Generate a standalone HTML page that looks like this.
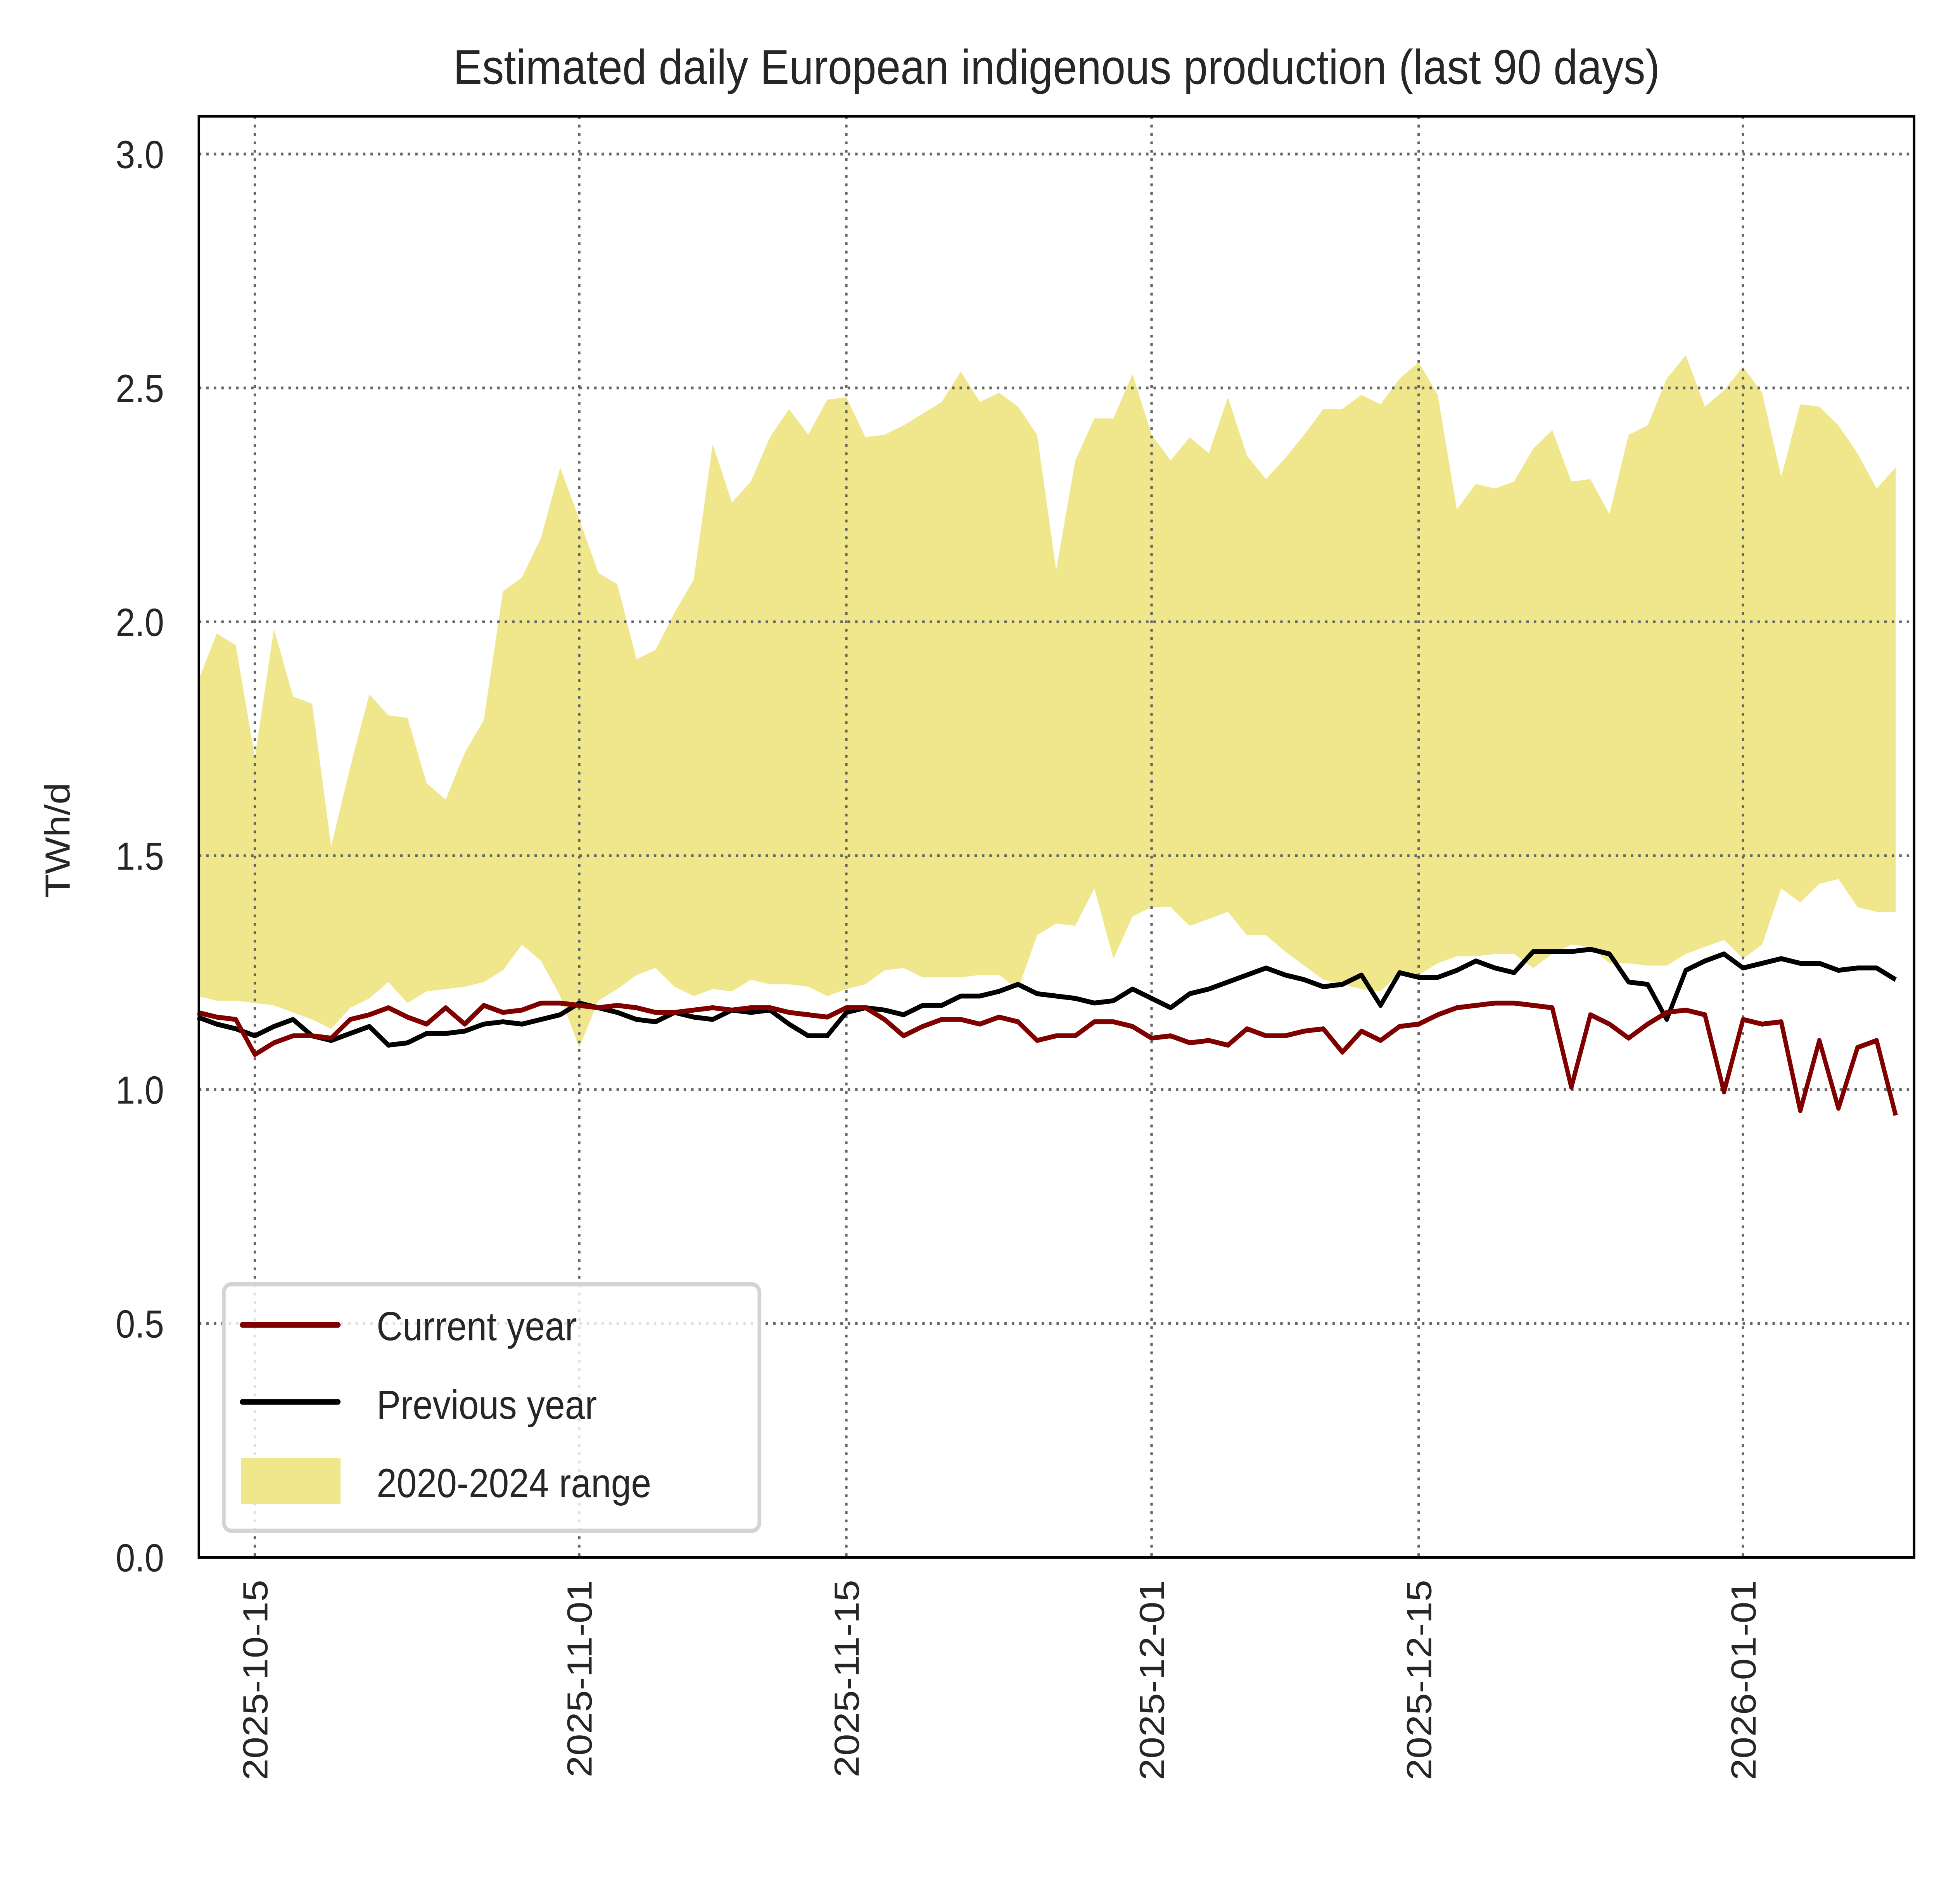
<!DOCTYPE html>
<html><head><meta charset="utf-8"><style>
html,body{margin:0;padding:0;background:#fff;width:100vw;height:100vh;overflow:hidden;}
svg{display:block;width:100vw;height:100vh;}
text{font-family:"Liberation Sans",sans-serif;fill:#262626;}
</style></head>
<body>
<svg id="chart" viewBox="0 0 1560 1359.5" preserveAspectRatio="none" xmlns="http://www.w3.org/2000/svg">
<rect width="1560" height="1359.5" fill="#fff"/>
<text x="850" y="60" font-size="35" text-anchor="middle">Estimated daily European indigenous production (last 90 days)</text>
<text transform="translate(56,600) rotate(-90)" font-size="28" text-anchor="middle">TWh/d</text>
<g id="band"></g>
<g id="grid"></g>
<g id="lines"></g>
<g id="ticks"></g>
<rect x="160" y="83" width="1380" height="1029" fill="none" stroke="#000" stroke-width="2"/>
<g>
<rect x="180" y="917" width="431" height="176" rx="6" fill="#fff" fill-opacity="0.8" stroke="#d4d4d4" stroke-width="3"/>
<line x1="195" y1="946" x2="272" y2="946" stroke="#800000" stroke-width="4" stroke-linecap="round"/>
<text x="303" y="957" font-size="29">Current year</text>
<line x1="195" y1="1001" x2="272" y2="1001" stroke="#000" stroke-width="4" stroke-linecap="round"/>
<text x="303" y="1013" font-size="29">Previous year</text>
<rect x="194" y="1041" width="80" height="33" fill="#f0e68c"/>
<text x="303" y="1069" font-size="29">2020-2024 range</text>
</g>
</svg>
<script>
const currentYear=[1.165,1.155,1.15,1.075,1.10,1.115,1.115,1.11,1.15,1.16,1.175,1.155,1.14,1.175,1.14,1.18,1.165,1.17,1.185,1.185,1.18,1.175,1.18,1.175,1.165,1.165,1.17,1.175,1.17,1.175,1.175,1.165,1.16,1.155,1.175,1.175,1.15,1.115,1.135,1.15,1.15,1.14,1.155,1.145,1.105,1.115,1.115,1.145,1.145,1.135,1.11,1.115,1.10,1.105,1.095,1.13,1.115,1.115,1.125,1.13,1.08,1.125,1.105,1.135,1.14,1.16,1.175,1.18,1.185,1.185,1.18,1.175,1.005,1.16,1.14,1.11,1.14,1.165,1.17,1.16,0.995,1.15,1.14,1.145,0.955,1.105,0.96,1.09,1.105,0.945];
const previousYear=[1.155,1.14,1.13,1.115,1.135,1.15,1.115,1.105,1.12,1.135,1.095,1.10,1.12,1.12,1.125,1.14,1.145,1.14,1.15,1.16,1.185,1.175,1.165,1.15,1.145,1.165,1.155,1.15,1.17,1.165,1.17,1.14,1.115,1.115,1.165,1.175,1.17,1.16,1.18,1.18,1.20,1.20,1.21,1.225,1.205,1.20,1.195,1.185,1.19,1.215,1.195,1.175,1.205,1.215,1.23,1.245,1.26,1.245,1.235,1.22,1.225,1.245,1.18,1.25,1.24,1.24,1.255,1.275,1.26,1.25,1.295,1.295,1.295,1.30,1.29,1.23,1.225,1.15,1.255,1.275,1.29,1.26,1.27,1.28,1.27,1.27,1.255,1.26,1.26,1.235];
const rangeUpper=[1.87,1.975,1.95,1.71,1.985,1.84,1.825,1.52,1.69,1.845,1.80,1.795,1.655,1.62,1.72,1.79,2.065,2.095,2.18,2.33,2.22,2.105,2.08,1.92,1.94,2.02,2.09,2.38,2.255,2.30,2.395,2.455,2.40,2.475,2.48,2.395,2.40,2.42,2.445,2.47,2.535,2.47,2.49,2.46,2.40,2.11,2.345,2.435,2.435,2.53,2.40,2.345,2.395,2.36,2.48,2.355,2.305,2.35,2.40,2.455,2.455,2.485,2.465,2.52,2.555,2.485,2.24,2.295,2.285,2.30,2.37,2.41,2.30,2.305,2.23,2.40,2.42,2.52,2.57,2.46,2.495,2.545,2.49,2.31,2.465,2.46,2.42,2.36,2.285,2.33];
const rangeLower=[1.2,1.19,1.19,1.185,1.18,1.165,1.15,1.13,1.175,1.195,1.23,1.185,1.21,1.215,1.22,1.23,1.255,1.31,1.275,1.20,1.09,1.19,1.215,1.245,1.26,1.22,1.20,1.215,1.21,1.235,1.225,1.225,1.22,1.2,1.215,1.225,1.255,1.26,1.24,1.24,1.24,1.245,1.245,1.215,1.33,1.355,1.35,1.43,1.28,1.37,1.39,1.39,1.35,1.365,1.38,1.33,1.33,1.295,1.265,1.235,1.225,1.215,1.21,1.25,1.245,1.27,1.285,1.285,1.29,1.29,1.26,1.29,1.31,1.305,1.27,1.27,1.265,1.265,1.29,1.305,1.32,1.28,1.31,1.43,1.40,1.44,1.45,1.39,1.38,1.38];
const yTicks=[0,0.5,1.0,1.5,2.0,2.5,3.0];
const yTickLabels=["0.0","0.5","1.0","1.5","2.0","2.5","3.0"];
const xTickDays=[3,20,34,50,64,81];
const xTickLabels=["2025-10-15","2025-11-01","2025-11-15","2025-12-01","2025-12-15","2026-01-01"];

const NS="http://www.w3.org/2000/svg";
function xs(d){return 159+d*15.35;}
function ys(v){return 1112-v*334;}
function mk(tag,attrs,parent){const e=document.createElementNS(NS,tag);for(const k in attrs)e.setAttribute(k,attrs[k]);parent.appendChild(e);return e;}

const band=document.getElementById('band');
let pts=rangeUpper.map((v,i)=>xs(i)+','+ys(v));
for(let i=rangeLower.length-1;i>=0;i--)pts.push(xs(i)+','+ys(rangeLower[i]));
const poly=mk('polygon',{points:pts.join(' '),fill:'#f0e68c'},band);



const grid=document.getElementById('grid');
const ticks=document.getElementById('ticks');
yTicks.forEach((v,i)=>{
  if(v>0){const g=mk('line',{x1:160,x2:1540,y1:ys(v),y2:ys(v),stroke:'#666','stroke-width':2,'stroke-dasharray':'2,4'},grid);
  
  }
  const t=mk('text',{x:132,y:ys(v)+10,'font-size':28,'text-anchor':'end'},ticks);
  t.textContent=yTickLabels[i];
  
  
});
xTickDays.forEach((d,i)=>{
  const g=mk('line',{x1:xs(d),x2:xs(d),y1:83,y2:1112,stroke:'#666','stroke-width':2,'stroke-dasharray':'2,4'},grid);
  
  
  const t=mk('text',{transform:'translate('+(xs(d)+10)+',1128) rotate(-90)','font-size':28,'text-anchor':'end'},ticks);
  t.textContent=xTickLabels[i];
  
  
});

const lines=document.getElementById('lines');
const prev=mk('polyline',{points:previousYear.map((v,i)=>xs(i)+','+ys(v)).join(' '),fill:'none',stroke:'#000','stroke-width':3.5,'stroke-linejoin':'round'},lines);


const cur=mk('polyline',{points:currentYear.map((v,i)=>xs(i)+','+ys(v)).join(' '),fill:'none',stroke:'#800000','stroke-width':3.5,'stroke-linejoin':'round'},lines);


</script>
</body></html>
